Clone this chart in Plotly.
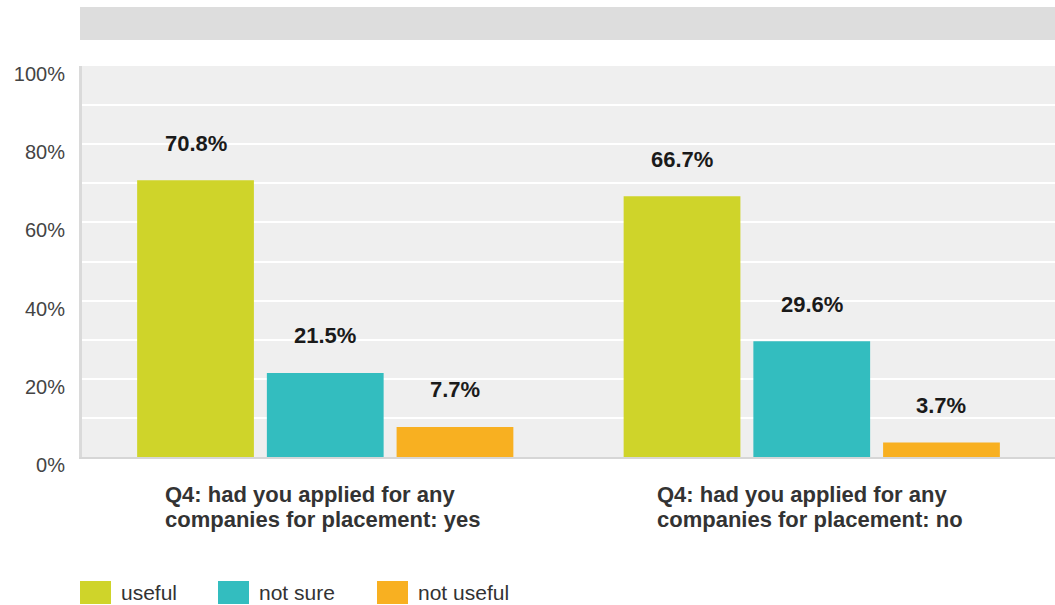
import plotly.graph_objects as go

categories = ["Q4: had you applied for any companies for placement: yes",
              "Q4: had you applied for any companies for placement: no"]
label_lines = [["Q4: had you applied for any", "companies for placement: yes"],
               ["Q4: had you applied for any", "companies for placement: no"]]
series_names = ["useful", "not sure", "not useful"]
useful = [70.8, 66.7]
not_sure = [21.5, 29.6]
not_useful = [7.7, 3.7]
y_ticks = [0, 20, 40, 60, 80, 100]

colors = ["#cfd42a", "#33bdbf", "#f8b021"]
FONT = "Liberation Sans, Arial, sans-serif"

W, H = 1055, 605
ML, MR, MT, MB = 82, 0, 66, 148
PW, PH = W - ML - MR, H - MT - MB

def px_x(p):
    return (p - ML) / PW

def px_y(p):
    return (H - MB - p) / PH

series = [useful, not_sure, not_useful]
xs = list(range(len(categories)))

fig = go.Figure()
for name, vals, col in zip(series_names, series, colors):
    fig.add_trace(go.Bar(x=xs, y=vals, name=name, marker=dict(color=col, line=dict(width=0)),
                         showlegend=False, hovertext=categories))

bargap = 0.2
slot = (1 - bargap) / len(series)
annotations = []
for j, vals in enumerate(series):
    off = (j - (len(series) - 1) / 2) * slot
    for i, v in enumerate(vals):
        annotations.append(dict(x=i + off, y=v, xref="x", yref="y", text=f"<b>{v:.1f}%</b>",
                                showarrow=False, yanchor="middle", yshift=37,
                                font=dict(family=FONT, size=22, color="#1a1a1a")))

left_shift = [-162, -157]
for i, lines in enumerate(label_lines):
    for k, line in enumerate(lines):
        annotations.append(dict(x=i, y=px_y(494 + 25 * k), xref="x", yref="paper",
                                text=f"<b>{line}</b>", showarrow=False, yanchor="middle",
                                xanchor="left", xshift=left_shift[i],
                                font=dict(family=FONT, size=22, color="#333333")))

shapes = []
# top gray band
shapes.append(dict(type="rect", xref="paper", yref="paper", x0=px_x(80), x1=1.0,
                   y0=px_y(40), y1=px_y(7), fillcolor="#dddddd", line=dict(width=0), layer="below"))

# legend
legend_x = [80, 218, 377]
for name, col, lx in zip(series_names, colors, legend_x):
    shapes.append(dict(type="rect", xref="paper", yref="paper", x0=px_x(lx), x1=px_x(lx + 31),
                       y0=px_y(604), y1=px_y(581), fillcolor=col, line=dict(width=0)))
    annotations.append(dict(x=px_x(lx + 39), y=px_y(592.5), xref="paper", yref="paper",
                            text=name, showarrow=False, xanchor="left", yanchor="middle",
                            font=dict(family=FONT, size=21, color="#333333")))

fig.update_layout(
    width=W, height=H,
    margin=dict(l=ML, r=MR, t=MT, b=MB),
    paper_bgcolor="white", plot_bgcolor="#efefef",
    barmode="group", bargap=bargap, bargroupgap=0.1,
    annotations=annotations, shapes=shapes,
    showlegend=False,
    xaxis=dict(showticklabels=False, showgrid=False, zeroline=False, range=[-0.5, 1.5],
               showline=True, linecolor="#d6d6d6", linewidth=2, ticks=""),
    yaxis=dict(range=[0, 100], tickvals=y_ticks, ticktext=[f"{t}%" for t in y_ticks],
               showgrid=True, gridcolor="white", gridwidth=2,
               minor=dict(dtick=10, showgrid=True, gridcolor="white", gridwidth=2),
               zeroline=False, showline=True, linecolor="#dadada", linewidth=3,
               ticks="", ticklabelstandoff=10, ticklabelshift=8,
               tickfont=dict(family=FONT, size=20, color="#444444")),
)

fig.write_html("out.html", post_script="document.body.style.margin='0';",
               config={"displayModeBar": False})
